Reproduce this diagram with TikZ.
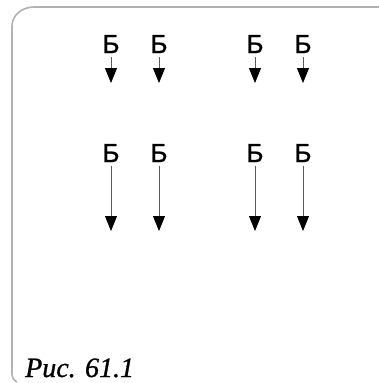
\documentclass[tikz,border=0pt]{standalone}
\usepackage{fontspec}
\setmainfont{Liberation Serif}[FakeBold=1]
\newfontfamily\letterfont{Liberation Sans}[FakeBold=1]
\usetikzlibrary{arrows.meta}

\begin{document}
\begin{tikzpicture}[x=1pt,y=-1pt,
    >={Triangle[width=12pt,length=15pt,color=black]},
    letter/.style={font=\letterfont\fontsize{26}{26}\selectfont,
      inner sep=0pt,anchor=base},
    stem/.style={->,gray!70!black,line width=0.8pt,shorten <=4pt}]
  \useasboundingbox (0,0) rectangle (379,383);
  \draw[gray!60,line width=1.6pt] (379,7) -- (34,7)
    to[out=180,in=90] (12,26) -- (12,374) to[out=-90,in=150] (17,382);

  \node[letter] (up1) at (111,53) {Б};
  \node[letter] (up2) at (159,53) {Б};
  \node[letter] (up3) at (255,53) {Б};
  \node[letter] (up4) at (303,53) {Б};
  \coordinate (uptip1) at (111,83);
  \coordinate (uptip2) at (159,83);
  \coordinate (uptip3) at (255,83);
  \coordinate (uptip4) at (303,83);
  \draw[stem] (up1) -- (uptip1);
  \draw[stem] (up2) -- (uptip2);
  \draw[stem] (up3) -- (uptip3);
  \draw[stem] (up4) -- (uptip4);

  \node[letter] (low1) at (111,162) {Б};
  \node[letter] (low2) at (159,162) {Б};
  \node[letter] (low3) at (255,162) {Б};
  \node[letter] (low4) at (303,162) {Б};
  \coordinate (lowtip1) at (111,231);
  \coordinate (lowtip2) at (159,231);
  \coordinate (lowtip3) at (255,231);
  \coordinate (lowtip4) at (303,231);
  \draw[stem] (low1) -- (lowtip1);
  \draw[stem] (low2) -- (lowtip2);
  \draw[stem] (low3) -- (lowtip3);
  \draw[stem] (low4) -- (lowtip4);

  \node[font=\itshape\fontsize{28}{28}\selectfont,inner sep=0pt,
    anchor=base west] (caption) at (25,377) {Рис. 61.1};
\end{tikzpicture}
\end{document}
